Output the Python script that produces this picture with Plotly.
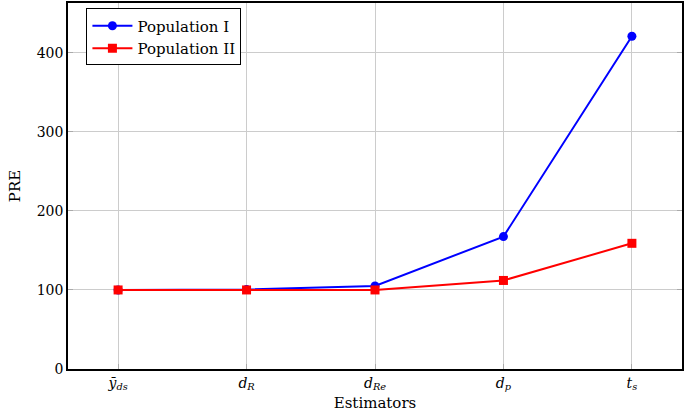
import plotly.graph_objects as go

categories = ["<i>ȳ</i><sub><i>ds</i></sub>", "<i>d</i><sub><i>R</i></sub>", "<i>d</i><sub><i>Re</i></sub>",
              "<i>d</i><sub><i>p</i></sub>", "<i>t</i><sub><i>s</i></sub>"]
pop1 = [100, 100.5, 105, 167.5, 421]
pop2 = [100, 100, 100, 112, 159]
yticks = [0, 100, 200, 300, 400]

xs = list(range(len(categories)))
font = "DejaVu Serif"

fig = go.Figure()
fig.add_trace(go.Scatter(x=xs, y=pop1, mode="lines+markers", name="Population I",
                         line=dict(color="#0000ff", width=2), marker=dict(symbol="circle", size=9, color="#0000ff")))
fig.add_trace(go.Scatter(x=xs, y=pop2, mode="lines+markers", name="Population II",
                         line=dict(color="#ff0000", width=2), marker=dict(symbol="square", size=9, color="#ff0000")))

fig.update_layout(
    width=685, height=414,
    margin=dict(l=68, r=2, t=1, b=45),
    plot_bgcolor="white", paper_bgcolor="white",
    font=dict(family=font, size=14, color="black"),
    showlegend=True,
    legend=dict(x=0.03, y=0.985, xanchor="left", yanchor="top",
                bordercolor="black", borderwidth=1, bgcolor="white",
                font=dict(family=font, size=15), tracegroupgap=0, itemwidth=40),
    xaxis=dict(range=[-0.39, 4.39], tickmode="array", tickvals=xs, ticktext=categories,
               showgrid=True, gridcolor="#cccccc", gridwidth=1,
               showline=True, linecolor="black", linewidth=1.5, mirror=True,
               ticks="inside", ticklen=5, tickcolor="#aaaaaa", zeroline=False,
               title=dict(text="Estimators", standoff=6, font=dict(family=font, size=15)),
               tickfont=dict(family=font, size=14)),
    yaxis=dict(range=[0, 463], tickmode="array", tickvals=yticks,
               showgrid=True, gridcolor="#cccccc", gridwidth=1,
               showline=True, linecolor="black", linewidth=1.5, mirror="allticks",
               ticks="inside", ticklen=5, tickcolor="#aaaaaa", zeroline=False,
               title=dict(text="PRE", standoff=12, font=dict(family=font, size=15)),
               tickfont=dict(family=font, size=14)),
)

fig.write_html("out.html")
